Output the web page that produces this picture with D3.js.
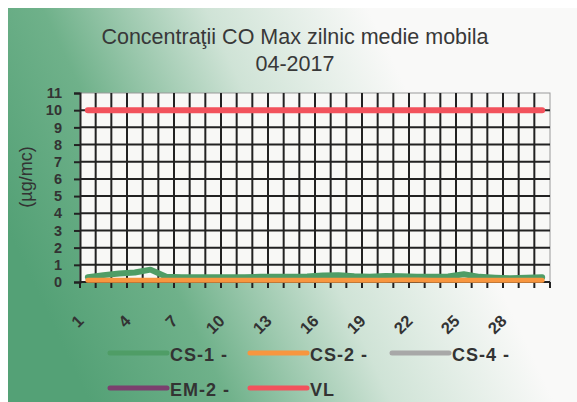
<!DOCTYPE html>
<html>
<head>
<meta charset="utf-8">
<script src="https://cdn.jsdelivr.net/npm/d3@7"></script>
<style>
  body { margin: 0; background: #fff; }
  svg { display: block; font-family: Arial, "Liberation Sans", sans-serif; }
</style>
</head>
<body>
<div id="chart"></div>
<script>
// days of the month (category axis)
const days = ['1','2','3','4','5','6','7','8','9','10','11','12','13','14','15',
    '16','17','18','19','20','21','22','23','24','25','26','27','28','29','30'];
const shownDays = ['1','4','7','10','13','16','19','22','25','28'];
const yTicks = [0,1,2,3,4,5,6,7,8,9,10,11];

// series values (µg/mc)
const cs1 = [0.28,0.4,0.5,0.55,0.72,0.3,0.28,0.27,0.27,0.28,0.28,0.3,0.3,0.3,0.32,
    0.38,0.4,0.33,0.3,0.35,0.33,0.3,0.3,0.32,0.45,0.3,0.25,0.22,0.25,0.28];
const cs2 = [0.1,0.1,0.1,0.1,0.1,0.1,0.1,0.1,0.1,0.1,0.1,0.1,0.1,0.1,0.1,
    0.1,0.1,0.1,0.1,0.1,0.12,0.12,0.1,0.1,0.1,0.1,0.1,0.1,0.1,0.1];
const cs4 = [];
const em2 = [];
const vl = [10,10,10,10,10,10,10,10,10,10,10,10,10,10,10,
    10,10,10,10,10,10,10,10,10,10,10,10,10,10,10];

const seriesNames = ['CS-1 -','CS-2 -','CS-4 -','EM-2 -','VL'];
const seriesColors = ['#4f9d66','#f8963f','#a8a8a8','#7b3f6e','#f2525c'];

const width = 577, height = 402;
const margin = { top: 93, right: 27, bottom: 120, left: 80 };
const plotW = width - margin.left - margin.right;
const plotH = height - margin.top - margin.bottom;

const svg = d3.select('#chart').append('svg')
    .attr('width', width)
    .attr('height', height);

const defs = svg.append('defs');
const grad = defs.append('linearGradient')
    .attr('id', 'bgGrad')
    .attr('gradientUnits', 'userSpaceOnUse')
    .attr('x1', 60).attr('y1', 340)
    .attr('x2', 440).attr('y2', 160);
grad.append('stop').attr('offset', '0').attr('stop-color', '#54a176');
grad.append('stop').attr('offset', '0.3').attr('stop-color', '#6fb18a');
grad.append('stop').attr('offset', '0.65').attr('stop-color', '#cfe3d6');
grad.append('stop').attr('offset', '1').attr('stop-color', '#f9f9f8');

svg.append('rect')
    .attr('x', 8).attr('y', 8)
    .attr('width', width - 8).attr('height', height - 8)
    .attr('fill', 'url(#bgGrad)');

// title
const title = svg.append('text')
    .attr('text-anchor', 'middle')
    .attr('fill', '#383838')
    .attr('font-size', '21.5px');
title.append('tspan').attr('x', 295).attr('y', 44).text('Concentraţii CO Max zilnic medie mobila');
title.append('tspan').attr('x', 295).attr('y', 71).text('04-2017');

const g = svg.append('g')
    .attr('transform', 'translate(' + margin.left + ',' + margin.top + ')');

const x = d3.scaleBand().domain(days).range([0, plotW]);
const y = d3.scaleLinear().domain([0, 11]).range([plotH, 0]);

g.append('rect')
    .attr('width', plotW).attr('height', plotH)
    .attr('fill', '#f8f8f6')
    .attr('stroke', '#9a9a9a');

// horizontal grid
g.append('g')
    .selectAll('line')
    .data(yTicks.slice(1, -1))
    .join('line')
    .attr('x1', 0).attr('x2', plotW)
    .attr('y1', d => y(d)).attr('y2', d => y(d))
    .attr('stroke', '#222')
    .attr('stroke-width', 2);

// vertical grid at category boundaries
g.append('g')
    .selectAll('line')
    .data(days.slice(1))
    .join('line')
    .attr('x1', d => x(d)).attr('x2', d => x(d))
    .attr('y1', 0).attr('y2', plotH)
    .attr('stroke', '#222')
    .attr('stroke-width', 2);

// y axis
const yAxis = g.append('g')
    .call(d3.axisLeft(y).tickValues(yTicks).tickSize(6).tickPadding(12));
yAxis.select('.domain').attr('stroke', '#222').attr('stroke-width', 2);
yAxis.selectAll('.tick line').attr('stroke', '#222').attr('stroke-width', 2);
yAxis.selectAll('.tick text')
    .attr('font-size', '14.5px')
    .attr('font-weight', 'bold')
    .attr('fill', '#333')
    .attr('font-family', 'Arial, "Liberation Sans", sans-serif');

// x axis ticks at boundaries
const xAxis = g.append('g')
    .attr('transform', 'translate(0,' + plotH + ')');
xAxis.append('line')
    .attr('x1', 0).attr('x2', plotW)
    .attr('stroke', '#222').attr('stroke-width', 2);
xAxis.selectAll('.xtick')
    .data(days.concat(['end']))
    .join('line')
    .attr('class', 'xtick')
    .attr('x1', (d, i) => i * x.step()).attr('x2', (d, i) => i * x.step())
    .attr('y1', 0).attr('y2', 6)
    .attr('stroke', '#222').attr('stroke-width', 2);
xAxis.selectAll('.xlabel')
    .data(shownDays)
    .join('text')
    .attr('class', 'xlabel')
    .attr('text-anchor', 'end')
    .attr('font-size', '16.5px')
    .attr('font-weight', 'bold')
    .attr('fill', '#333')
    .attr('transform', d => 'translate(' + (x(d) + x.bandwidth() / 2 - 3) + ',40) rotate(-45)')
    .text(d => d);

// y axis title
svg.append('text')
    .attr('transform', 'translate(32,177) rotate(-90)')
    .attr('text-anchor', 'middle')
    .attr('font-size', '18px')
    .attr('fill', '#333')
    .text('(µg/mc)');

// series lines
const line = d3.line()
    .x((d, i) => x(days[i]) + x.bandwidth() / 2)
    .y(d => y(d));

const series = [cs1, cs2, cs4, em2, vl];
const widths = [6, 5, 5, 5, 6];
g.append('g')
    .selectAll('path')
    .data(series)
    .join('path')
    .attr('d', d => d.length ? line(d) : null)
    .attr('fill', 'none')
    .attr('stroke', (d, i) => seriesColors[i])
    .attr('stroke-width', (d, i) => widths[i])
    .attr('stroke-linecap', 'round')
    .attr('stroke-linejoin', 'round');

// legend
const legendPos = [[110, 353], [250, 353], [392, 353], [110, 388], [250, 388]];
const legend = svg.append('g')
    .selectAll('g')
    .data(seriesNames)
    .join('g')
    .attr('transform', (d, i) => 'translate(' + legendPos[i][0] + ',' + legendPos[i][1] + ')');
legend.append('line')
    .attr('x1', 0).attr('x2', 57)
    .attr('stroke', (d, i) => seriesColors[i])
    .attr('stroke-width', 5)
    .attr('stroke-linecap', 'round');
legend.append('text')
    .attr('x', 60).attr('y', 8)
    .attr('font-size', '18px')
    .attr('font-weight', 'bold')
    .attr('letter-spacing', '1px')
    .attr('fill', '#333')
    .text(d => d);
</script>
</body>
</html>
